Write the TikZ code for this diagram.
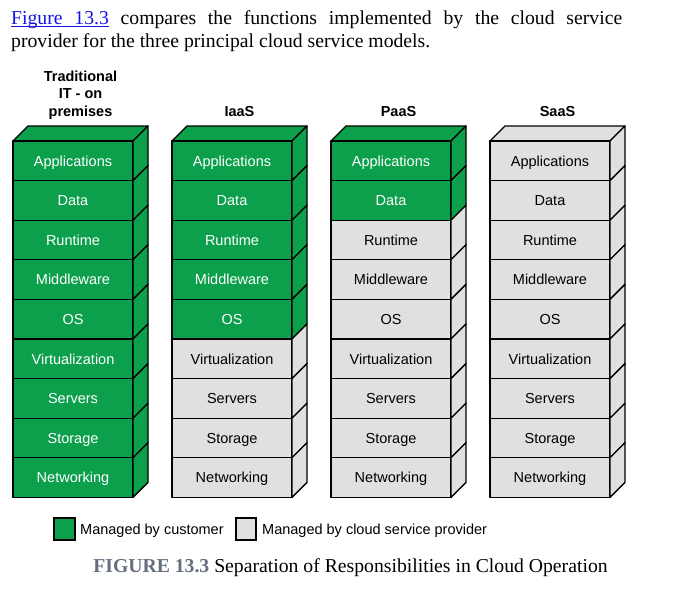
\documentclass[tikz,border=0pt]{standalone}
\usepackage{fontspec}
\setmainfont{Liberation Serif}
\newfontfamily\diagsans{Liberation Sans}
\definecolor{custgreen}{RGB}{12,160,76}
\definecolor{provgray}{RGB}{224,224,224}
\definecolor{linkblue}{RGB}{20,20,230}
\definecolor{capgray}{RGB}{100,110,125}
\newcommand{\myul}[1]{\setbox0\hbox{#1}\rlap{\vrule width \wd0 height -2pt depth 3.2pt}\box0}
\newcommand{\myulspace}{\leaders\hrule height -2pt depth 3.2pt\hskip\fontdimen2\font plus\fontdimen3\font minus\fontdimen4\font}
\tikzset{
  facebox/.style={draw=black, line width=1.3pt, line join=round},
  celltext/.style={font=\diagsans\fontsize{14.5}{16}\selectfont, anchor=base, inner sep=0},
  headtext/.style={font=\diagsans\bfseries\fontsize{14.5}{16.5}\selectfont, anchor=base, inner sep=0},
  legendtext/.style={font=\diagsans\fontsize{14.5}{16}\selectfont, anchor=base west, inner sep=0},
  legendbox/.style={draw=black, line width=1.3pt, inner sep=0, minimum width=21pt, minimum height=22pt},
  bodytext/.style={font=\fontsize{19.7}{23}\selectfont, anchor=base west, inner sep=0},
}
\begin{document}
\begin{tikzpicture}[x=1pt,y=-1pt]
\useasboundingbox (0,0) rectangle (680,589);
% intro text
\node[bodytext] (intro1) at (11,24) {\hbox to 611pt{{\color{linkblue}\myul{Figure}\myulspace\myul{13.3}} compares the functions implemented by the cloud service}};
\node[bodytext] (intro2) at (11,47) {provider for the three principal cloud service models.};
% headers
\node[headtext] (h1a) at (80.5,81) {Traditional};
\node[headtext] (h1b) at (80.5,98.5) {IT - on};
\node[headtext] (h1c) at (80.5,116) {premises};
\node[headtext] (h2) at (239.5,116) {IaaS};
\node[headtext] (h3) at (398.5,116) {PaaS};
\node[headtext] (h4) at (557.5,116) {SaaS};
% columns
\foreach \L/\ng/\cn in {13/9/a,172/5/b,331/2/c,490/0/d}{
  \ifnum\ng>0 \def\topc{custgreen}\else\def\topc{provgray}\fi
  \filldraw[facebox, fill=\topc] (\L,141) -- (\L+15,126) -- (\L+135,126) -- (\L+120,141) -- cycle;
  \foreach \lab [count=\i from 0] in {Applications,Data,Runtime,Middleware,OS,Virtualization,Servers,Storage,Networking}{
    \pgfmathsetmacro{\ya}{141+\i*39.6}
    \pgfmathsetmacro{\yb}{\ya+39.6}
    \ifnum\i<\ng \def\fc{custgreen}\def\tc{white}\else\def\fc{provgray}\def\tc{black}\fi
    \filldraw[facebox, fill=\fc] (\L,\ya) rectangle (\L+120,\yb);
    \filldraw[facebox, fill=\fc] (\L+120,\ya) -- (\L+135,\ya-15) -- (\L+135,\yb-15) -- (\L+120,\yb) -- cycle;
    \node[celltext, text=\tc] (\cn\i) at (\L+60,{(\ya+\yb)/2+5.2}) {\lab};
  }
}
% legend
\node[legendbox, fill=custgreen] (lg1) at (64.5,529) {};
\node[legendtext] (lt1) at (80,534) {Managed by customer};
\node[legendbox, fill=provgray, minimum width=20pt] (lg2) at (246,529) {};
\node[legendtext] (lt2) at (262,534) {Managed by cloud service provider};
% caption
\node[anchor=base, inner sep=0, font=\fontsize{19.7}{23}\selectfont] (cap) at (350.5,572) {\textcolor{capgray}{\textbf{FIGURE 13.3}} Separation of Responsibilities in Cloud Operation};
\end{tikzpicture}
\end{document}
